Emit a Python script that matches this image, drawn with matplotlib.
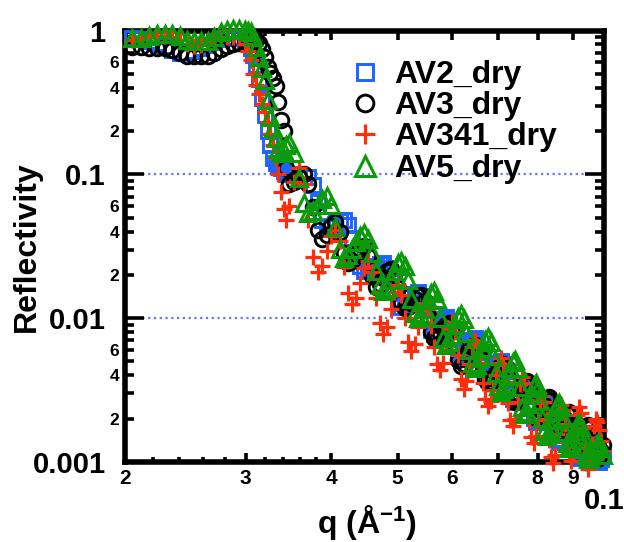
import matplotlib
matplotlib.use("Agg")
import matplotlib.pyplot as plt
from matplotlib.ticker import FixedLocator, FixedFormatter

plt.rcParams['font.family'] = ['Liberation Sans', 'DejaVu Sans']
plt.rcParams['font.weight'] = 'bold'
plt.rcParams['mathtext.fontset'] = 'custom'
plt.rcParams['mathtext.rm'] = 'Liberation Sans:bold'
plt.rcParams['mathtext.it'] = 'Liberation Sans:bold'
plt.rcParams['mathtext.bf'] = 'Liberation Sans:bold'

# scattering vector q (1/Angstrom)
q = [
    0.02051, 0.02110, 0.02169, 0.02228, 0.02287, 0.02346, 0.02405, 0.02464,
    0.02523, 0.02582, 0.02641, 0.02700, 0.02759, 0.02818, 0.02877, 0.02936,
    0.0299, 0.0302, 0.0305, 0.0308, 0.0311, 0.0314, 0.0317, 0.0320,
    0.0323, 0.0326, 0.0329, 0.0332, 0.0335, 0.0338, 0.0341, 0.0344,
    0.03467, 0.03526, 0.03585, 0.03644, 0.03703, 0.03762, 0.03821, 0.03880, 0.03939, 0.03998,
    0.04057, 0.04116, 0.04175, 0.04234, 0.04293, 0.04352, 0.04411, 0.04470, 0.04529, 0.04588,
    0.04647, 0.04706, 0.04765, 0.04824, 0.04883, 0.04942, 0.05001, 0.05060, 0.05119, 0.05178,
    0.05237, 0.05296, 0.05355, 0.05414, 0.05473, 0.05532, 0.05591, 0.05650, 0.05709, 0.05768,
    0.05827, 0.05886, 0.05945, 0.06004, 0.06063, 0.06122, 0.06181, 0.06240, 0.06299, 0.06358,
    0.06417, 0.06476, 0.06535, 0.06594, 0.06653, 0.06712, 0.06771, 0.06830, 0.06889, 0.06948,
    0.07007, 0.07066, 0.07125, 0.07184, 0.07243, 0.07302, 0.07361, 0.07420, 0.07479, 0.07538,
    0.07597, 0.07656, 0.07715, 0.07774, 0.07833, 0.07892, 0.07951, 0.08010, 0.08069, 0.08128,
    0.08187, 0.08246, 0.08305, 0.08364, 0.08423, 0.08482, 0.08541, 0.08600, 0.08659, 0.08718,
    0.08777, 0.08836, 0.08895, 0.08954, 0.09013, 0.09072, 0.09131, 0.09190, 0.09249, 0.09308,
    0.09367, 0.09426, 0.09485, 0.09544, 0.09603, 0.09662, 0.09721, 0.09780, 0.09839, 0.09898,
    0.09957,
]

r_av2 = [
    0.88, 0.87, 0.85, 0.82, 0.78, 0.73, 0.70, 0.70, 0.72, 0.75, 0.79, 0.83, 0.87, 0.89, 0.90, 0.88,
    0.86, 0.82, 0.76, 0.68, 0.58, 0.46, 0.34, 0.26, 0.20, 0.16, 0.13, 0.12, 0.115, 0.11, 0.105, 0.10,
    0.100, 0.0993, 0.0977, 0.0962, 0.0955, 0.0849, 0.0638, 0.0480, 0.0427, 0.0434,
    0.0452, 0.0471, 0.0479, 0.0444, 0.0362, 0.0282, 0.0231, 0.0214, 0.0216, 0.0222,
    0.0231, 0.0237, 0.0240, 0.0224, 0.0189, 0.0152, 0.0128, 0.0120, 0.0123, 0.0130,
    0.0140, 0.0148, 0.0151, 0.0142, 0.0120, 0.00977, 0.00828, 0.00776, 0.00809, 0.00891,
    0.00982, 0.0102, 0.00962, 0.00818, 0.00671, 0.00571, 0.00537, 0.00552, 0.00596, 0.00653,
    0.00705, 0.00724, 0.00681, 0.00579, 0.00475, 0.00405, 0.00380, 0.00390, 0.00418, 0.00456,
    0.00489, 0.00501, 0.00480, 0.00427, 0.00363, 0.00309, 0.00275, 0.00263, 0.00275, 0.00305,
    0.00340, 0.00355, 0.00334, 0.00286, 0.00236, 0.00202, 0.00191, 0.00196, 0.00211, 0.00232,
    0.00250, 0.00257, 0.00247, 0.00220, 0.00188, 0.00161, 0.00144, 0.00138, 0.00142, 0.00154,
    0.00171, 0.00185, 0.00191, 0.00180, 0.00156, 0.00131, 0.00113, 0.00107, 0.00111, 0.00121,
    0.00134, 0.00147, 0.00151, 0.00147, 0.00136, 0.00123, 0.00111, 0.00103, 0.00100, 0.00105,
    0.00112,
]

r_av3 = [
    0.77, 0.77, 0.76, 0.76, 0.75, 0.73, 0.70, 0.67, 0.66, 0.66, 0.67, 0.70, 0.74, 0.78, 0.80, 0.82,
    0.84, 0.86, 0.87, 0.87, 0.86, 0.82, 0.74, 0.65, 0.56, 0.51, 0.47, 0.41, 0.32, 0.24, 0.20, 0.11,
    0.0851, 0.0885, 0.0959, 0.100, 0.0859, 0.0596, 0.0413, 0.0355, 0.0380, 0.0437,
    0.0468, 0.0395, 0.0283, 0.0240, 0.0250, 0.0275, 0.0303, 0.0316, 0.0269, 0.0195,
    0.0166, 0.0173, 0.0191, 0.0212, 0.0221, 0.0202, 0.0161, 0.0129, 0.0117, 0.0120,
    0.0127, 0.0136, 0.0143, 0.0146, 0.0132, 0.0103, 0.00804, 0.00724, 0.00741, 0.00787,
    0.00849, 0.00902, 0.00923, 0.00836, 0.00656, 0.00516, 0.00468, 0.00482, 0.00522, 0.00578,
    0.00627, 0.00646, 0.00610, 0.00525, 0.00437, 0.00376, 0.00355, 0.00362, 0.00384, 0.00414,
    0.00448, 0.00474, 0.00484, 0.00457, 0.00393, 0.00324, 0.00279, 0.00263, 0.00271, 0.00294,
    0.00325, 0.00352, 0.00363, 0.00343, 0.00295, 0.00245, 0.00211, 0.00200, 0.00206, 0.00225,
    0.00250, 0.00273, 0.00282, 0.00267, 0.00231, 0.00193, 0.00167, 0.00158, 0.00164, 0.00179,
    0.00199, 0.00217, 0.00224, 0.00212, 0.00184, 0.00153, 0.00133, 0.00126, 0.00130, 0.00143,
    0.00160, 0.00176, 0.00182, 0.00173, 0.00150, 0.00127, 0.00110, 0.00105, 0.00110, 0.00120,
    0.00132,
]

r_av341 = [
    0.86, 0.88, 0.90, 0.92, 0.92, 0.90, 0.86, 0.80, 0.78, 0.79, 0.82, 0.86, 0.89, 0.90, 0.90, 0.88,
    0.80, 0.72, 0.62, 0.50, 0.42, 0.36, 0.31, 0.27, 0.23, 0.19, 0.16, 0.13, 0.10, 0.075, 0.057, 0.048,
    0.0603, 0.0891, 0.110, 0.0861, 0.0479, 0.0266, 0.0209, 0.0230, 0.0292, 0.0370,
    0.0407, 0.0344, 0.0226, 0.0149, 0.0126, 0.0139, 0.0177, 0.0225, 0.0248, 0.0209,
    0.0139, 0.00920, 0.00776, 0.00871, 0.0115, 0.0151, 0.0170, 0.0146, 0.0100, 0.00687,
    0.00589, 0.00659, 0.00865, 0.0114, 0.0127, 0.0115, 0.00881, 0.00631, 0.00483, 0.00437,
    0.00489, 0.00641, 0.00843, 0.00944, 0.00807, 0.00552, 0.00378, 0.00324, 0.00363, 0.00479,
    0.00631, 0.00708, 0.00640, 0.00491, 0.00354, 0.00272, 0.00245, 0.00264, 0.00319, 0.00404,
    0.00489, 0.00525, 0.00473, 0.00361, 0.00258, 0.00197, 0.00178, 0.00200, 0.00263, 0.00347,
    0.00389, 0.00352, 0.00270, 0.00195, 0.00149, 0.00135, 0.00151, 0.00197, 0.00258, 0.00288,
    0.00260, 0.00199, 0.00142, 0.00108, 0.000977, 0.00112, 0.00157, 0.00219, 0.00251, 0.00231,
    0.00184, 0.00140, 0.00111, 0.00102, 0.00116, 0.00157, 0.00212, 0.00240, 0.00218, 0.00171,
    0.00125, 0.000980, 0.000891, 0.00100, 0.00133, 0.00177, 0.00200, 0.00191, 0.00166, 0.00141,
    0.00120,
]

r_av5 = [
    0.88, 0.89, 0.91, 0.94, 0.95, 0.94, 0.91, 0.86, 0.84, 0.84, 0.85, 0.90, 0.97, 1.01, 1.02, 1.02,
    1.01, 1.00, 0.97, 0.90, 0.77, 0.65, 0.55, 0.45, 0.33, 0.25, 0.21, 0.18, 0.15, 0.14, 0.145, 0.16,
    0.166, 0.141, 0.0944, 0.0634, 0.0537, 0.0560, 0.0617, 0.0679, 0.0708, 0.0612,
    0.0432, 0.0304, 0.0263, 0.0273, 0.0301, 0.0340, 0.0375, 0.0389, 0.0356, 0.0283,
    0.0213, 0.0169, 0.0155, 0.0162, 0.0183, 0.0213, 0.0240, 0.0251, 0.0230, 0.0183,
    0.0137, 0.0109, 0.0100, 0.0104, 0.0116, 0.0133, 0.0149, 0.0155, 0.0136, 0.0100,
    0.00733, 0.00646, 0.00678, 0.00769, 0.00899, 0.0102, 0.0107, 0.00986, 0.00793, 0.00604,
    0.00485, 0.00447, 0.00469, 0.00532, 0.00622, 0.00706, 0.00741, 0.00682, 0.00548, 0.00418,
    0.00336, 0.00309, 0.00320, 0.00351, 0.00398, 0.00452, 0.00495, 0.00513, 0.00452, 0.00331,
    0.00243, 0.00214, 0.00224, 0.00255, 0.00298, 0.00338, 0.00355, 0.00327, 0.00264, 0.00203,
    0.00164, 0.00151, 0.00157, 0.00173, 0.00197, 0.00225, 0.00248, 0.00257, 0.00240, 0.00201,
    0.00161, 0.00135, 0.00126, 0.00131, 0.00144, 0.00163, 0.00180, 0.00186, 0.00176, 0.00153,
    0.00128, 0.00111, 0.00105, 0.00106, 0.00111, 0.00119, 0.00127, 0.00133, 0.00135, 0.00126,
    0.00112,
]

labels = ["AV2_dry", "AV3_dry", "AV341_dry", "AV5_dry"]

# axis ticks and their labels
x_ticks = [0.02, 0.03, 0.04, 0.05, 0.06, 0.07, 0.08, 0.09, 0.1]
x_tick_labels = ["2", "3", "4", "5", "6", "7", "8", "9", "0.1"]
x_small_ticks = [0.022, 0.024, 0.026, 0.028, 0.032, 0.034, 0.036, 0.038]
y_ticks = [0.001, 0.01, 0.1, 1]
y_tick_labels = ["0.001", "0.01", "0.1", "1"]
y_minor_mult = [2, 3, 4, 5, 6, 7, 8, 9]
y_minor_shown = ["2", "", "4", "", "6", "", "", ""]

styles = [
    dict(marker="s", mec="#1b64ff", ms=10.5, mew=2.1),
    dict(marker="o", mec="black", ms=10.5, mew=2.1),
    dict(marker="+", mec="#ff2d0a", ms=12.0, mew=2.3),
    dict(marker="^", mec="#0a9a0a", ms=12.0, mew=2.2),
]

fig = plt.figure(figsize=(6.24, 5.42), dpi=100)
ax = fig.add_axes([0.2003, 0.1476, 0.7676, 0.7961])
ax.set_xscale("log")
ax.set_yscale("log")

for i, (lab, r, st) in enumerate(zip(labels, [r_av2, r_av3, r_av341, r_av5], styles)):
    ax.plot(q, r, ls="none", mfc="none", label=lab, clip_on=False,
            zorder=3 + i, **st)

ax.set_xlim(0.02, 0.1)
ax.set_ylim(0.001, 1)

ax.xaxis.set_major_locator(FixedLocator(x_ticks))
ax.xaxis.set_major_formatter(FixedFormatter(x_tick_labels))
ax.xaxis.set_minor_locator(FixedLocator(x_small_ticks))
ax.xaxis.set_minor_formatter(FixedFormatter([""] * len(x_small_ticks)))

y_minor = [m * d for d in y_ticks[:-1] for m in y_minor_mult]
y_minor_text = [t for d in y_ticks[:-1] for t in y_minor_shown]
ax.yaxis.set_major_locator(FixedLocator(y_ticks))
ax.yaxis.set_major_formatter(FixedFormatter(y_tick_labels))
ax.yaxis.set_minor_locator(FixedLocator(y_minor))
ax.yaxis.set_minor_formatter(FixedFormatter(y_minor_text))

for s in ax.spines.values():
    s.set_linewidth(4.0)

ax.tick_params(which="both", direction="in", top=True, right=True, width=2.6)
ax.tick_params(axis="x", which="major", length=6.5, labelsize=15, pad=5)
ax.tick_params(axis="x", which="minor", length=3.5)
ax.tick_params(axis="y", which="major", length=14, labelsize=21, pad=14)
ax.tick_params(axis="y", which="minor", length=6.5, labelsize=12.5, pad=4)

last = ax.xaxis.get_major_ticks()[-1]
last.label1.set_fontsize(21)
last.set_pad(18)

ax.set_axisbelow(True)
ax.grid(True, axis="y", which="major", color="#6a72ff", ls=(0, (1.0, 1.6)), lw=1.6)
ax.grid(False, axis="x")

ax.set_ylabel("Reflectivity", fontsize=23, fontweight="bold")
ax.yaxis.set_label_coords(-0.173, 0.5)
ax.set_xlabel("q (Å$^{-1}$)", fontsize=23, fontweight="bold")
ax.xaxis.set_label_coords(0.505, -0.095)

ax.legend(loc="upper left", bbox_to_anchor=(0.468, 0.932), frameon=False,
          fontsize=23, handlelength=1.0, handletextpad=0.42, labelspacing=0.04,
          borderpad=0, borderaxespad=0, numpoints=1, markerscale=1.15)

fig.savefig("out.png", dpi=100)
